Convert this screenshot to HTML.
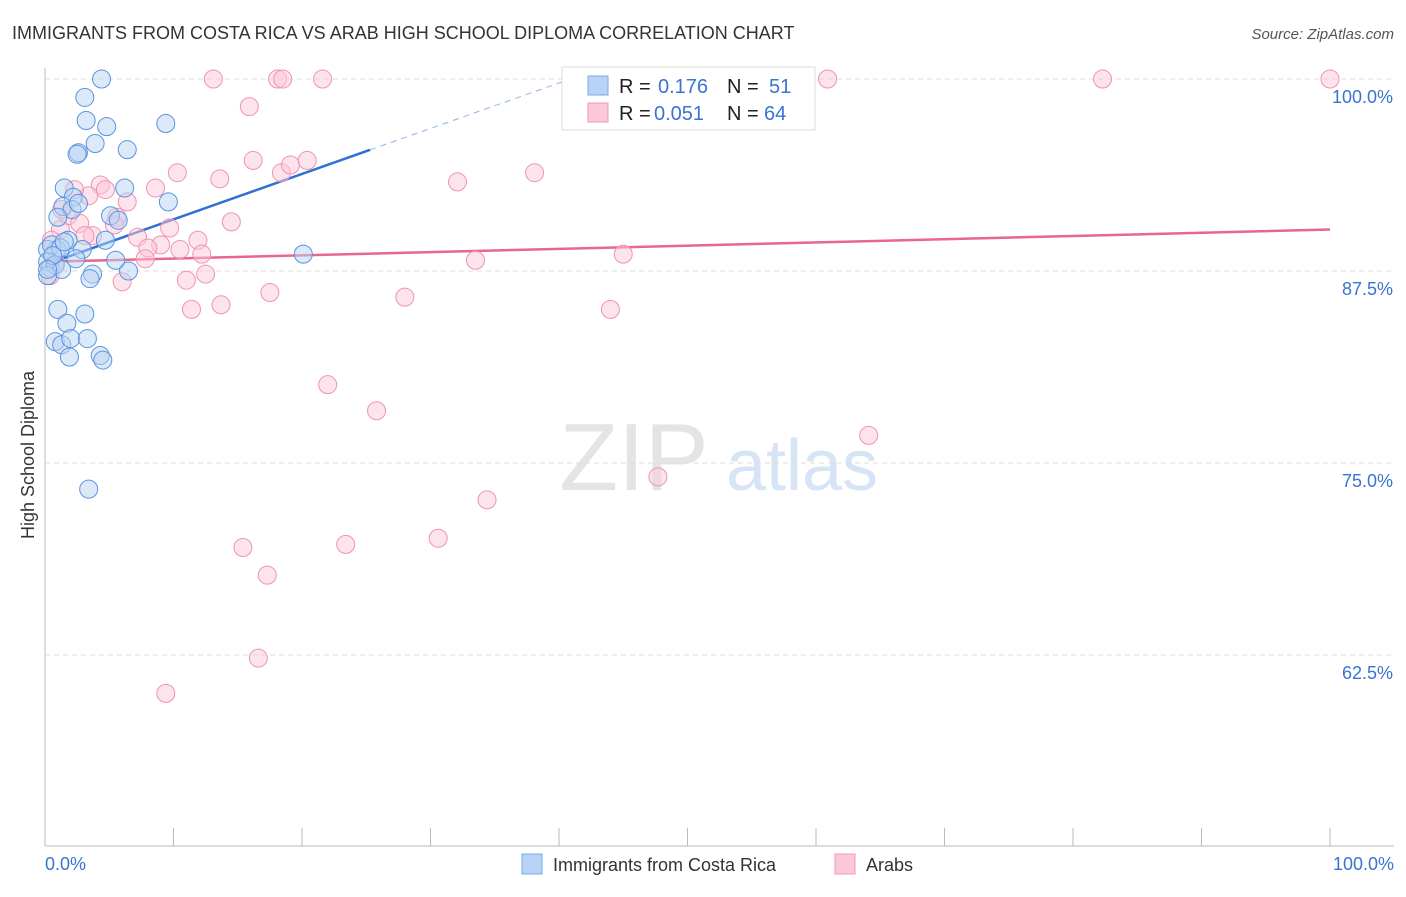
<!DOCTYPE html>
<html><head><meta charset="utf-8"><style>
body{margin:0;background:#fff;font-family:"Liberation Sans",sans-serif;}
svg text{font-family:"Liberation Sans",sans-serif;}
</style></head><body>
<svg id="chart" width="1406" height="892" xmlns="http://www.w3.org/2000/svg">
<text x="12" y="39" font-size="18" fill="#333">IMMIGRANTS FROM COSTA RICA VS ARAB HIGH SCHOOL DIPLOMA CORRELATION CHART</text>
<text x="1394" y="39" font-size="15" fill="#555" font-style="italic" text-anchor="end">Source: ZipAtlas.com</text>
<text x="0" y="0" font-size="18" fill="#333" text-anchor="middle" transform="translate(34,455) rotate(-90)">High School Diploma</text>
<g><text x="634" y="490" font-size="96" fill="#e4e4e4" font-family="Liberation Serif" text-anchor="middle">ZIP</text><text x="802" y="490" font-size="72" fill="#d6e4f5" text-anchor="middle">atlas</text></g>
<g id="grid"></g><g id="axes"></g><g id="lines"></g><g id="pts"></g>
<g>
<rect x="562" y="67" width="253" height="63" fill="#fff" stroke="#ddd"/>
<rect x="588" y="76" width="20" height="19" fill="#b9d3f4" stroke="#7aaae6"/>
<rect x="588" y="103" width="20" height="19" fill="#fbc8d8" stroke="#f099b5"/>
<text x="619" y="93" font-size="20" fill="#222">R =</text>
<text x="658" y="93" font-size="20" fill="#3b73d1">0.176</text>
<text x="727" y="93" font-size="20" fill="#222">N =</text>
<text x="769" y="93" font-size="20" fill="#3b73d1">51</text>
<text x="619" y="120" font-size="20" fill="#222">R =</text>
<text x="654" y="120" font-size="20" fill="#3b73d1">0.051</text>
<text x="727" y="120" font-size="20" fill="#222">N =</text>
<text x="764" y="120" font-size="20" fill="#3b73d1">64</text>
</g>
<g>
<rect x="522" y="854" width="20" height="20" fill="#b9d3f4" stroke="#7aaae6"/>
<text x="553" y="871" font-size="18" fill="#333">Immigrants from Costa Rica</text>
<rect x="835" y="854" width="20" height="20" fill="#fbc8d8" stroke="#f099b5"/>
<text x="866" y="871" font-size="18" fill="#333">Arabs</text>
</g>
</svg>
<script>
const yTicks=[100,87.5,75,62.5];
const yTickLabels=["100.0%","87.5%","75.0%","62.5%"];
const xTickLabels=["0.0%","100.0%"];
const blueX=[4.4,3.1,3.2,4.8,9.4,3.9,6.4,2.6,2.5,1.5,6.2,9.6,2.2,1.4,2.1,2.6,5.1,5.7,1.0,1.8,2.9,4.7,6.5,5.5,3.7,3.5,0.9,0.2,0.2,0.4,0.8,1.3,0.5,0.2,20.1,1.0,1.7,3.1,0.8,1.3,2.0,3.3,1.9,4.3,4.5,3.4,2.4,1.2,0.6,0.2,1.5];
const blueY=[100,98.8,97.3,96.9,97.1,95.8,95.4,95.2,95.1,92.9,92.9,92.0,92.3,91.7,91.5,91.9,91.1,90.8,91.0,89.5,88.9,89.5,87.5,88.2,87.3,87.0,88.9,88.9,88.1,87.7,87.9,87.6,89.2,87.2,88.6,85.0,84.1,84.7,82.9,82.7,83.1,83.1,81.9,82.0,81.7,73.3,88.3,89.0,88.5,87.6,89.4];
const pinkX=[13.1,18.1,18.5,21.6,47.1,60.9,82.3,100,15.9,16.2,10.3,13.6,18.4,19.1,20.4,38.1,32.1,8.6,4.3,4.7,3.4,2.3,1.8,2.7,6.4,5.6,14.5,9.7,7.2,9.0,8.0,11.9,10.5,12.2,7.8,3.7,1.2,0.5,0.8,33.5,45.0,11.0,12.5,6.0,17.5,28.0,11.4,13.7,44.0,22.0,25.8,64.1,47.7,34.4,15.4,23.4,30.6,17.3,16.6,9.4,0.4,1.3,5.4,3.1];
const pinkY=[100,100,100,100,100,100,100,100,98.2,94.7,93.9,93.5,93.9,94.4,94.7,93.9,93.3,92.9,93.1,92.8,92.4,92.8,91.1,90.6,92.0,91.0,90.7,90.3,89.7,89.2,89.0,89.5,88.9,88.6,88.3,89.8,90.2,89.5,88.1,88.2,88.6,86.9,87.3,86.8,86.1,85.8,85.0,85.3,85.0,80.1,78.4,76.8,74.1,72.6,69.5,69.7,70.1,67.7,62.3,60.0,87.2,91.5,90.5,89.8];
const blueTrend=[87.9,0.296];
const pinkTrend=[88.1,0.021];
const NS="http://www.w3.org/2000/svg";
const X=v=>45+v*12.85, Y=v=>79+(100-v)*15.36;
function mk(t,a,p){const e=document.createElementNS(NS,t);for(const k in a)e.setAttribute(k,a[k]);document.getElementById(p).appendChild(e);return e;}
yTicks.forEach((t,i)=>{
 const g=mk('line',{x1:45,x2:1394,y1:Y(t),y2:Y(t),stroke:'#ddd','stroke-dasharray':'5,4'},'grid');
 
 
 const l=mk('text',{x:1393,y:Y(t)+24,'font-size':18,fill:'#3b73d1','text-anchor':'end'},'axes');l.textContent=yTickLabels[i];
 
 
});
mk('line',{x1:45,x2:45,y1:68,y2:846,stroke:'#bbb'},'axes');
mk('line',{x1:45,x2:1394,y1:846,y2:846,stroke:'#bbb'},'axes');
for(let i=1;i<=10;i++){const t=mk('line',{x1:X(i*10),x2:X(i*10),y1:828,y2:846,stroke:'#bbb'},'axes');
 
 }
[[0,'start',45],[1,'end',1394]].forEach(([i,a,x])=>{const l=mk('text',{x:x,y:870,'font-size':18,fill:'#3b73d1','text-anchor':a},'axes');l.textContent=xTickLabels[i];
 
 });
function pts(xs,ys,f,s,n){xs.forEach((x,i)=>{const c=mk('circle',{cx:X(x),cy:Y(ys[i]),r:9,fill:f,'fill-opacity':0.5,stroke:s,'stroke-width':1},'pts');
 
 });}
pts(pinkX,pinkY,'#fbc8d8','#ef94b1','arab-point');
pts(blueX,blueY,'#b9d3f4','#5b93dd','costa-rica-point');
let l1=mk('line',{x1:X(0),y1:Y(blueTrend[0]),x2:X(25.3),y2:Y(blueTrend[0]+blueTrend[1]*25.3),stroke:'#2f6fd6','stroke-width':2.5},'lines');


let l2=mk('line',{x1:X(25.3),y1:Y(blueTrend[0]+blueTrend[1]*25.3),x2:X(42),y2:Y(blueTrend[0]+blueTrend[1]*42),stroke:'#8fb3e6','stroke-width':1,'stroke-dasharray':'6,5'},'lines');


let l3=mk('line',{x1:X(0),y1:Y(pinkTrend[0]),x2:X(100),y2:Y(pinkTrend[0]+pinkTrend[1]*100),stroke:'#e8668f','stroke-width':2.5},'lines');


</script>
</body></html>
